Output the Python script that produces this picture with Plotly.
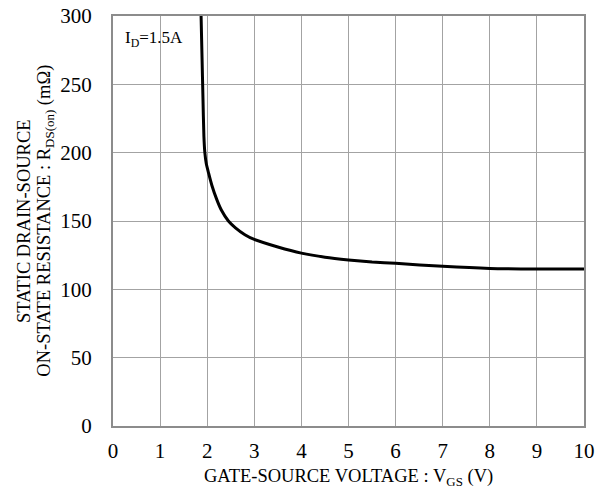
import plotly.graph_objects as go

# Data
vgs = [1.87, 1.89, 1.91, 1.93, 1.95, 1.98, 2.03, 2.10, 2.20, 2.30, 2.45, 2.60, 2.80, 3.00,
       3.50, 4.00, 4.50, 5.00, 5.50, 6.00, 7.00, 8.00, 9.00, 10.00]
rds = [300, 270, 240, 212, 200, 192, 185, 176, 166, 158, 150, 145, 140, 136.5,
       131, 126.5, 123.5, 121.5, 120, 119, 116.8, 115.3, 114.9, 114.8]

x_ticks = list(range(0, 11))
y_ticks = [0, 50, 100, 150, 200, 250, 300]

FONT = "Liberation Serif"

fig = go.Figure()
fig.add_trace(go.Scatter(x=vgs, y=rds, mode="lines",
                         line=dict(color="black", width=3, shape="spline", smoothing=0.6),
                         showlegend=False, hoverinfo="skip"))

axis_common = dict(showgrid=True, gridcolor="#a3a3a3", gridwidth=1.2,
                   showline=True, linecolor="#8c8c8c", linewidth=2, mirror=True,
                   ticks="", zeroline=False, automargin=False,
                   ticklabeloverflow="allow",
                   tickfont=dict(family=FONT, size=21, color="black"))

fig.update_xaxes(range=[0, 10], tickvals=x_ticks, ticktext=[str(v) for v in x_ticks],
                 ticklabelstandoff=5, **axis_common)
fig.update_yaxes(range=[0, 300], tickvals=y_ticks, ticktext=[str(v) for v in y_ticks],
                 ticklabelstandoff=15, **axis_common)

fig.add_annotation(xref="paper", yref="paper", x=0.5, y=-0.125, xanchor="center", yanchor="middle",
                   text="GATE-SOURCE VOLTAGE : V<sub>GS</sub> (V)", showarrow=False,
                   font=dict(family=FONT, size=18.5, color="black"))
fig.add_annotation(xref="paper", yref="paper", x=-0.189, y=0.5, xanchor="center", yanchor="middle",
                   text="STATIC DRAIN-SOURCE", textangle=-90, showarrow=False,
                   font=dict(family=FONT, size=18.5, color="black"))
fig.add_annotation(xref="paper", yref="paper", x=-0.145, y=0.5, xanchor="center", yanchor="middle",
                   text="ON-STATE RESISTANCE : R<sub>DS(on)</sub> (mΩ)", textangle=-90, showarrow=False,
                   font=dict(family=FONT, size=18.5, color="black"))
fig.add_annotation(xref="paper", yref="paper", x=0.022, y=0.945, xanchor="left", yanchor="middle",
                   text="I<sub>D</sub>=1.5A", showarrow=False,
                   font=dict(family=FONT, size=17, color="black"))

fig.update_layout(width=608, height=493,
                  margin=dict(l=113, r=24, t=16, b=67),
                  paper_bgcolor="white", plot_bgcolor="white")

# remove the default 8px page margin so the figure fills the window exactly
fig.write_html("out.html", config={"displayModeBar": False},
               post_script="document.body.style.margin='0';document.body.style.overflow='hidden';")
